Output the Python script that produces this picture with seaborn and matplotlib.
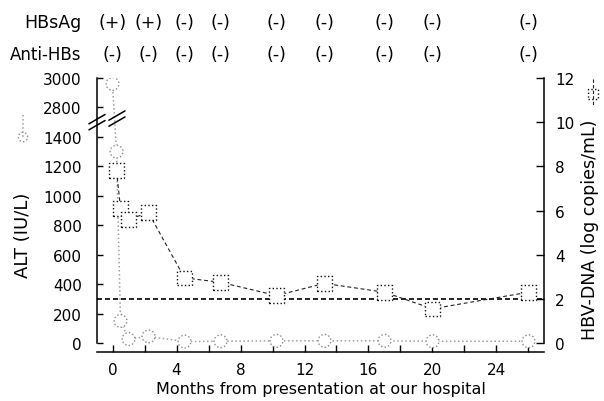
import matplotlib
matplotlib.use('Agg')
import matplotlib.pyplot as plt
import matplotlib.transforms as mtransforms
from matplotlib.lines import Line2D
import numpy as np
import seaborn as sns

# ALT (IU/L) on the left axis, which is broken between 1400 and 2800
alt_months = [0, 0.25, 0.5, 1, 2.25, 4.5, 6.75, 10.25, 13.25, 17, 20, 26]
alt_values = [2960, 1300, 150, 27, 45, 10, 12, 15, 15, 15, 12, 12]

# HBV-DNA (log copies/mL) on the right axis
dna_months = [0.25, 0.5, 1, 2.25, 4.5, 6.75, 10.25, 13.25, 17, 20, 26]
dna_values = [7.8, 6.1, 5.6, 5.9, 2.95, 2.75, 2.15, 2.7, 2.3, 1.55, 2.3]
dna_limit = 2

# serology row labels along the top
sero_months = [0, 2.25, 4.5, 6.75, 10.25, 13.25, 17, 20, 26]
hbsag = ['(+)', '(+)', '(-)', '(-)', '(-)', '(-)', '(-)', '(-)', '(-)']
anti_hbs = ['(-)', '(-)', '(-)', '(-)', '(-)', '(-)', '(-)', '(-)', '(-)']

alt_ticks = [0, 200, 400, 600, 800, 1000, 1200, 1400, 2800, 3000]
dna_ticks = [0, 2, 4, 6, 8, 10, 12]
month_ticks = [0, 4, 8, 12, 16, 20, 24]
month_minor = [2, 6, 10, 14, 18, 22, 26]


# squeeze 1450..2750 into a small gap so the axis looks broken
def squash(v):
    v = np.asarray(v, dtype=float)
    return np.where(v <= 1450, v,
                    np.where(v >= 2750, v - 1200, 1450 + (v - 1450) / 13))


def unsquash(p):
    p = np.asarray(p, dtype=float)
    return np.where(p <= 1450, p,
                    np.where(p >= 1550, p + 1200, 1450 + (p - 1450) * 13))


sns.set_style('ticks')
plt.rcParams['font.family'] = ['DejaVu Sans']
plt.rcParams['text.color'] = 'black'
plt.rcParams['axes.labelcolor'] = 'black'
plt.rcParams['xtick.color'] = 'black'
plt.rcParams['ytick.color'] = 'black'

fig = plt.figure(figsize=(6.04, 4.02), dpi=100)
ax = fig.add_axes([97 / 604, 49 / 402, 447 / 604, 274 / 402])
ax2 = ax.twinx()

# ALT
sns.lineplot(x=alt_months, y=alt_values, ax=ax, color='#a0a0a0',
             linestyle=':', linewidth=1.1, zorder=2)
sns.scatterplot(x=alt_months, y=alt_values, ax=ax, marker='o', s=85,
                color='white', edgecolor='#8a8a8a', linewidth=1.0,
                linestyle=':', zorder=3)

# HBV-DNA
sns.lineplot(x=dna_months, y=dna_values, ax=ax2, color='#222222',
             linestyle=(0, (3.5, 2.5)), linewidth=0.8, zorder=2)
sns.scatterplot(x=dna_months, y=dna_values, ax=ax2, marker='s', s=110,
                color='white', edgecolor='#111111', linewidth=1.0,
                linestyle=':', zorder=3)
ax2.axhline(dna_limit, color='black', linestyle=(0, (3, 1.8)),
            linewidth=1.2, zorder=1)

ax.set_yscale('function', functions=(squash, unsquash))

ax.set_yticks(alt_ticks)
ax.set_yticklabels([str(t) for t in alt_ticks])
ax.yaxis.set_minor_locator(matplotlib.ticker.NullLocator())
ax2.set_yticks(dna_ticks)
ax.set_xticks(month_ticks)
ax.set_xticks(month_minor, minor=True)
ax.set_xlabel('Months from presentation at our hospital', fontsize=11.5,
              labelpad=3)
ax.set_ylabel('')
ax2.set_ylabel('')

ax.tick_params(axis='y', direction='in', length=4.5, width=1,
               labelsize=11, pad=11)
ax2.tick_params(axis='y', direction='in', length=5.5, width=1,
                labelsize=11, pad=8)
ax.tick_params(axis='x', which='both', direction='in', length=5, width=1,
               labelsize=11, pad=7)

for a in (ax, ax2):
    a.spines['top'].set_visible(False)
    for s in a.spines.values():
        s.set_linewidth(1.1)
        s.set_color('black')
ax.spines['right'].set_visible(False)
ax2.spines['left'].set_visible(False)
ax2.spines['bottom'].set_visible(False)
ax.spines['left'].set_bounds(0, 3000)
ax2.spines['right'].set_bounds(0, 12)

# break marks on the axis and on the ALT line
for cx, cy in [(0.0, 0.8388), (0.0447, 0.852)]:
    for off in (-0.011, 0.011):
        ax.add_line(Line2D([cx - 0.018, cx + 0.018],
                           [cy + off - 0.017, cy + off + 0.017],
                           transform=ax.transAxes, color='black', lw=1.1,
                           clip_on=False, zorder=5))

# serology rows
trans = mtransforms.blended_transform_factory(ax.transData, ax.transAxes)
for m, a, b in zip(sero_months, hbsag, anti_hbs):
    ax.text(m, 1.186, a, transform=trans, ha='center', va='baseline',
            fontsize=12.5, clip_on=False)
    ax.text(m, 1.069, b, transform=trans, ha='center', va='baseline',
            fontsize=12.5, clip_on=False)
fig.text(81 / 604, 1 - 28 / 402, 'HBsAg', ha='right', va='baseline',
         fontsize=12.5)
fig.text(81 / 604, 1 - 60 / 402, 'Anti-HBs', ha='right', va='baseline',
         fontsize=12)

# axis titles with their vertical key symbols
fig.text(23 / 604, 1 - 235 / 402, 'ALT (IU/L)', rotation=90, ha='center',
         va='center', fontsize=13)
fig.text(590 / 604, 1 - 230 / 402, 'HBV-DNA (log copies/mL)', rotation=90,
         ha='center', va='center', fontsize=12.5)

fig.add_artist(Line2D([23 / 604, 23 / 604], [1 - 116 / 402, 1 - 138 / 402],
                      transform=fig.transFigure, color='#a0a0a0', ls=':',
                      lw=1.1))
ax.scatter([23 / 604], [1 - 138 / 402], transform=fig.transFigure, marker='o',
           s=45, facecolor='white', edgecolor='#8a8a8a', linewidth=1.0,
           linestyle=':', clip_on=False, zorder=6)
fig.add_artist(Line2D([593 / 604, 593 / 604], [1 - 80 / 402, 1 - 106 / 402],
                      transform=fig.transFigure, color='#222222',
                      ls=(0, (3, 2)), lw=0.8))
ax2.scatter([593 / 604], [1 - 95 / 402], transform=fig.transFigure,
            marker='s', s=60, facecolor='white', edgecolor='#111111',
            linewidth=1.0, linestyle=':', clip_on=False, zorder=6)

ax.set_ylim(-61, 3000)
ax2.set_ylim(-61 / 150, 12)
ax.set_xlim(-0.97, 26.97)

fig.savefig('out.png', dpi=100)
